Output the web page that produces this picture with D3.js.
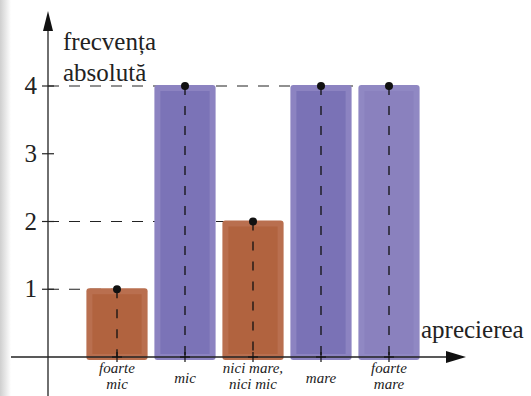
<!DOCTYPE html>
<html><head><meta charset="utf-8">
<script src="https://cdn.jsdelivr.net/npm/d3@7"></script>
<style>body{margin:0;background:#fff;}svg{display:block;}
text{font-family:"Liberation Serif","Times New Roman",Times,"DejaVu Serif",serif;}</style>
</head><body>
<script>
const categories = [["foarte","mic"],["mic"],["nici mare,","nici mic"],["mare"],["foarte","mare"]];
const values = [1, 4, 2, 4, 4];
const yTicks = [1, 2, 3, 4];
const barOuter = ["#b96f4f","#8c83c1","#b96f4f","#8c83c1","#9088c3"];
const barInner = ["#b1633f","#7b73b7","#b1633f","#7a72b6","#8a81be"];

const W = 531, H = 396;
const svg = d3.select("body").append("svg").attr("width", W).attr("height", H);
const defs = svg.append("defs");
const grad = defs.append("linearGradient").attr("id","sh").attr("x1","0").attr("x2","1");
grad.append("stop").attr("offset","0").attr("stop-color","#cfcfcf");
grad.append("stop").attr("offset","1").attr("stop-color","#ffffff");
svg.append("rect").attr("x",0).attr("y",0).attr("width",11).attr("height",H).attr("fill","url(#sh)");

const idx = categories.map((c,i)=>i);
const x = d3.scaleBand().domain(idx).range([83, 423]).paddingInner(0.1).paddingOuter(0.05);
const y = d3.scaleLinear().domain([0, 4]).range([357, 86]);
const axX = 48;

// horizontal dashed guides (behind bars)
yTicks.forEach(t => {
  const last = values.map((v,i)=>v===t?i:-1).filter(i=>i>=0);
  if (!last.length) return;
  const xe = x(last[last.length-1]) + x.bandwidth()/2;
  svg.append("line").attr("x1", axX).attr("x2", xe).attr("y1", y(t)).attr("y2", y(t))
    .attr("stroke","#222").attr("stroke-width",1.2).attr("stroke-dasharray","11,10");
});

// bars
const g = svg.append("g");
idx.forEach(i => {
  const x0 = x(i), bw = x.bandwidth(), top = y(values[i]) - 1, bot = y(0) + 3;
  g.append("rect").attr("x", x0).attr("y", top).attr("width", bw).attr("height", bot - top)
    .attr("rx", 3).attr("fill", barOuter[i]);
  g.append("rect").attr("x", x0 + 6).attr("y", top + 6).attr("width", bw - 12).attr("height", bot - top - 12)
    .attr("fill", barInner[i]);
});

// axes
const ax = svg.append("g").attr("stroke","#222").attr("stroke-width",1.3);
ax.append("line").attr("x1", 11).attr("x2", 450).attr("y1", y(0)).attr("y2", y(0));
ax.append("line").attr("x1", axX).attr("x2", axX).attr("y1", 396).attr("y2", 28);
svg.append("path").attr("d", `M${axX},11 L${axX-5},31 L${axX+5},31 Z`).attr("fill","#111");
svg.append("path").attr("d", `M466,${y(0)} L446,${y(0)-6} L446,${y(0)+6} Z`).attr("fill","#111");

// y ticks & labels
yTicks.forEach(t => {
  svg.append("line").attr("x1", axX-6).attr("x2", axX+6).attr("y1", y(t)).attr("y2", y(t))
    .attr("stroke","#222").attr("stroke-width",1.2);
  svg.append("text").attr("x", 37).attr("y", y(t) + 8).attr("text-anchor","end")
    .attr("font-size", 25).attr("fill","#222").text(t);
});

// vertical dashed lines, ticks, dots, category labels
idx.forEach(i => {
  const cx = x(i) + x.bandwidth()/2;
  svg.append("line").attr("x1", cx).attr("x2", cx).attr("y1", y(values[i])).attr("y2", y(0))
    .attr("stroke","#111").attr("stroke-width",1.3).attr("stroke-dasharray","9,11");
  svg.append("line").attr("x1", cx).attr("x2", cx).attr("y1", y(0)-5).attr("y2", y(0)+5)
    .attr("stroke","#111").attr("stroke-width",1.2);
  svg.append("line").attr("x1", cx-5).attr("x2", cx+5).attr("y1", y(0)).attr("y2", y(0))
    .attr("stroke","#111").attr("stroke-width",1.2);
  svg.append("circle").attr("cx", cx).attr("cy", y(values[i])).attr("r", 4).attr("fill","#111");
  const lines = categories[i];
  if (lines.length === 1) {
    svg.append("text").attr("text-anchor","middle").attr("font-style","italic").attr("font-size", 15)
      .attr("fill","#222").attr("x", cx).attr("y", 383).text(lines[0]);
  } else {
    lines.forEach((l, k) => svg.append("text").attr("text-anchor","middle").attr("font-style","italic")
      .attr("font-size", 15).attr("fill","#222").attr("x", cx).attr("y", 373 + k*16).text(l));
  }
});

// axis titles
svg.append("text").attr("x", 63).attr("y", 50).attr("font-size", 25)
  .attr("fill","#222").text("frecvența");
svg.append("text").attr("x", 63).attr("y", 81).attr("font-size", 25)
  .attr("fill","#222").text("absolută");
svg.append("text").attr("x", 421).attr("y", 338).attr("font-size", 25)
  .attr("fill","#222").text("aprecierea");
</script>
</body></html>
